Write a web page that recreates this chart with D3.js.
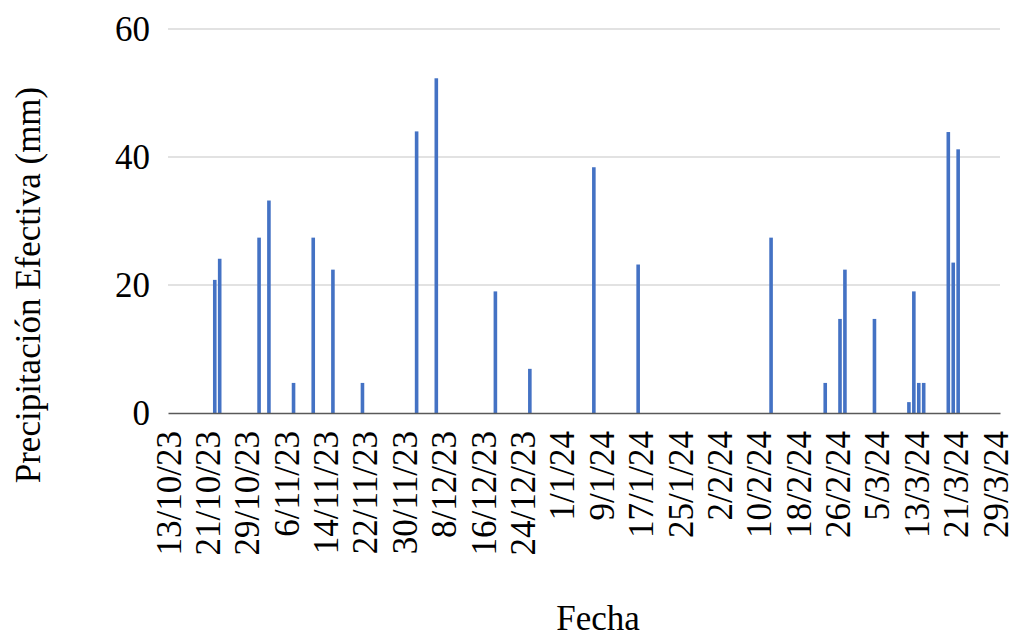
<!DOCTYPE html>
<html>
<head>
<meta charset="utf-8">
<title>Precipitación Efectiva</title>
<script src="https://cdn.jsdelivr.net/npm/d3@7"></script>
<style>
  body { margin: 0; background: #fff; }
  text { font-family: "Liberation Serif", "Times New Roman", serif; fill: #000; }
</style>
</head>
<body>
<svg id="chart" width="1011" height="639"></svg>
<script>
// fechas de los eventos (dd/mm/yy) y precipitación efectiva (mm)
const fechas = ["22/10/23","23/10/23","31/10/23","2/11/23","7/11/23","11/11/23","15/11/23","21/11/23",
  "2/12/23","6/12/23","18/12/23","25/12/23","7/1/24","16/1/24","12/2/24","23/2/24","26/2/24","27/2/24",
  "4/3/24","11/3/24","12/3/24","13/3/24","14/3/24","19/3/24","20/3/24","21/3/24"];
const precip = [20.8,24.1,27.4,33.2,4.7,27.4,22.4,4.7,
  44.0,52.3,19.0,6.9,38.4,23.2,27.4,4.7,14.7,22.4,
  14.7,1.7,19.0,4.7,4.7,43.9,23.5,41.2];
const tickFechas = ["13/10/23","21/10/23","29/10/23","6/11/23","14/11/23","22/11/23","30/11/23","8/12/23",
  "16/12/23","24/12/23","1/1/24","9/1/24","17/1/24","25/1/24","2/2/24","10/2/24","18/2/24","26/2/24",
  "5/3/24","13/3/24","21/3/24","29/3/24"];
const yTicks = [0, 20, 40, 60];

const parse = d3.utcParse("%d/%m/%y");
const fmt = d3.utcFormat("%-d/%-m/%y");
const data = fechas.map((f, i) => ({date: parse(f), value: precip[i]}));
const ticks = tickFechas.map(parse);

const FONT = '"Liberation Serif", "Times New Roman", serif';
const FS = 35;
const margin = {left: 168, right: 11, top: 29, bottom: 226};
const W = 1011, H = 639;
const svg = d3.select("#chart");

const half = 12 * 3600 * 1000;
const x = d3.scaleUtc()
  .domain([new Date(+ticks[0] - half), new Date(+ticks[ticks.length - 1] + half)])
  .range([margin.left, W - margin.right]);
const y = d3.scaleLinear().domain([0, 60]).range([H - margin.bottom, margin.top]);

// líneas de cuadrícula
svg.append("g")
  .selectAll("line")
  .data(yTicks.filter(d => d > 0))
  .join("line")
  .attr("x1", x.range()[0]).attr("x2", x.range()[1])
  .attr("y1", d => y(d)).attr("y2", d => y(d))
  .attr("stroke", "#d9d9d9").attr("stroke-width", 1.3);

// barras
const bw = 3.6;
svg.append("g")
  .selectAll("rect")
  .data(data)
  .join("rect")
  .attr("x", d => x(d.date) - bw / 2)
  .attr("width", bw)
  .attr("y", d => y(d.value))
  .attr("height", d => y(0) - y(d.value))
  .attr("fill", "#4472c4");

// eje x
const xAxis = svg.append("g")
  .attr("transform", `translate(0,${y(0)})`)
  .call(d3.axisBottom(x).tickValues(ticks).tickFormat(fmt).tickSize(0))
  .attr("font-family", FONT);
xAxis.select(".domain").attr("stroke", "#595959").attr("stroke-width", 1.5);
xAxis.selectAll("text")
  .attr("font-size", FS)
  .attr("transform", "rotate(-90)")
  .attr("text-anchor", "end")
  .attr("x", -18)
  .attr("y", -2)
  .attr("dy", "0.33em");

// eje y
const yAxis = svg.append("g")
  .attr("transform", `translate(${margin.left},0)`)
  .call(d3.axisLeft(y).tickValues(yTicks).tickSize(0).tickPadding(18))
  .attr("font-family", FONT);
yAxis.select(".domain").remove();
yAxis.selectAll("text").attr("font-size", FS);

// títulos
svg.append("text")
  .attr("x", 598).attr("y", 630)
  .attr("text-anchor", "middle")
  .attr("font-size", FS)
  .text("Fecha");

svg.append("text")
  .attr("transform", `translate(40,${(y(0) + y(60)) / 2 + 64}) rotate(-90)`)
  .attr("text-anchor", "middle")
  .attr("font-size", FS)
  .text("Precipitación Efectiva (mm)");
</script>
</body>
</html>
